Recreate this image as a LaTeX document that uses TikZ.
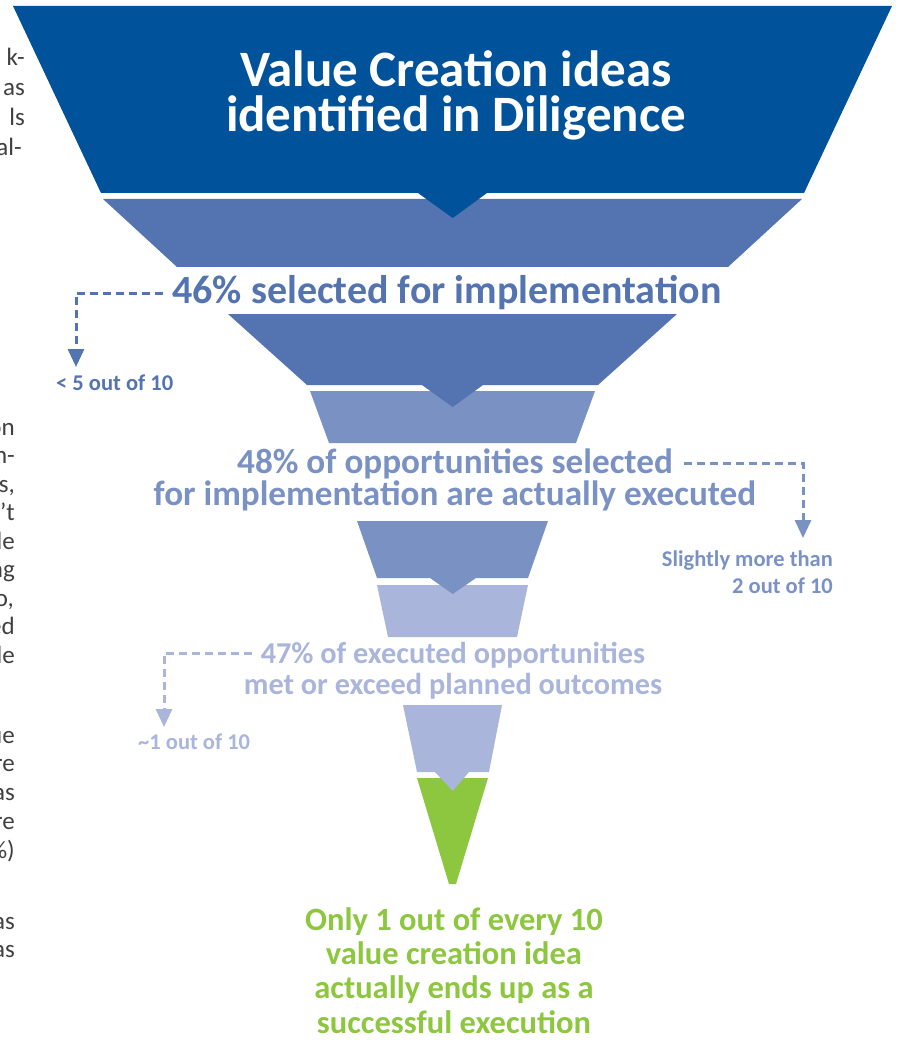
\documentclass[tikz,border=0pt]{standalone}
\usepackage{fontspec}
\setmainfont{Carlito}
\usetikzlibrary{arrows.meta,calc}

\definecolor{bandA}{RGB}{0,82,155}
\definecolor{bandB}{RGB}{83,115,177}
\definecolor{bandC}{RGB}{122,145,196}
\definecolor{bandD}{RGB}{169,181,218}
\definecolor{bandE}{RGB}{141,198,63}
\definecolor{bodygray}{RGB}{64,64,64}

\begin{document}
\begin{tikzpicture}[x=1pt,y=-1pt,
  txt/.style={inner sep=0pt,anchor=base},
  title/.style={txt,text=white,font=\fontsize{51pt}{54pt}\selectfont\bfseries},
  stageB/.style={txt,text=bandB,font=\fontsize{40pt}{44pt}\selectfont\bfseries},
  stageC/.style={txt,text=bandC,font=\fontsize{35.2pt}{38pt}\selectfont\bfseries},
  stageD/.style={txt,text=bandD,font=\fontsize{30.3pt}{32pt}\selectfont\bfseries},
  result/.style={txt,text=bandE,font=\fontsize{32.5pt}{35pt}\selectfont\bfseries},
  small/.style={inner sep=0pt,font=\fontsize{22.5pt}{25pt}\selectfont\bfseries},
  body/.style={inner sep=0pt,anchor=base east,text=bodygray,font=\fontsize{25pt}{28pt}\selectfont},
  dashB/.style={draw=bandB,line width=3pt,dash pattern=on 8pt off 5pt,-{Triangle[width=16pt,length=18pt]}},
  dashC/.style={dashB,draw=bandC},
  dashD/.style={dashB,draw=bandD}]
\useasboundingbox (0,0) rectangle (899,1040);

% funnel bands, top to bottom
\fill[bandB] (103,199) -- (802,199) -- (728,267) -- (177,267) -- cycle;
\fill[bandA] (13,6) -- (892,6) -- (804,193) -- (487,193) -- (452.7,218)
  -- (418,193) -- (101,193) -- cycle;
\fill[bandC] (310,391) -- (595,391) -- (576,443) -- (329,443) -- cycle;
\fill[bandB] (228,314) -- (677,314) -- (598,385) -- (483,385) -- (452.7,407)
  -- (422,385) -- (307,385) -- cycle;
\fill[bandD] (377,585) -- (528,585) -- (517,637) -- (388,637) -- cycle;
\fill[bandC] (357,521) -- (548,521) -- (528,578) -- (476,578) -- (452.7,594)
  -- (430,578) -- (377,578) -- cycle;
\fill[bandE] (417,778) -- (488,778) -- (456,884) -- (449,884) -- cycle;
\fill[bandD] (403,705) -- (502,705) -- (489,772) -- (469,772) -- (452.7,791)
  -- (435,772) -- (417,772) -- cycle;

% headline inside the top band
\node[title] (title1) at (456,87) {Value Creation ideas};
\node[title] (title2) at (456,132) {identified in Diligence};

% stage captions
\node[stageB] (s46) at (447,303) {46\% selected for implementation};
\node[stageC] (s48a) at (455,473) {48\% of opportunities selected};
\node[stageC] (s48b) at (455,505) {for implementation are actually executed};
\node[stageD] (s47a) at (453,663) {47\% of executed opportunities};
\node[stageD] (s47b) at (453,694) {met or exceed planned outcomes};

% side counts
\node[small,anchor=base west,text=bandB] (c5) at (56,390) {< 5 out of 10};
\node[small,anchor=base east,text=bandC] (c2a) at (833,566) {Slightly more than};
\node[small,anchor=base east,text=bandC] (c2b) at (833,593) {2 out of 10};
\node[small,anchor=base west,text=bandD] (c1) at (138,749) {\char"007E 1 out of 10};

% dashed leaders
\draw[dashB] ($(s46.base west)+(-9,-10)$) -| ($(c5.base west)+(20,-23)$);
\draw[dashC] ($(s48a.base east)+(11,-10)$) -| ($(c2a.base east)+(-30,-28)$);
\draw[dashD] ($(s47a.base west)+(-9,-10)$) -| ($(c1.base west)+(26,-22)$);

% closing statement
\node[result] (r1) at (454,930) {Only 1 out of every 10};
\node[result] (r2) at (454,964) {value creation idea};
\node[result] (r3) at (454,998) {actually ends up as a};
\node[result] (r4) at (454,1033) {successful execution};

% neighbouring text column, cut at the left edge
\node[body] (p1) at (25,66) {k-};
\node[body] (p2) at (25,96) {as};
\node[body] (p3) at (25,126) {ls};
\node[body] (p4) at (22,156) {al-};
\node[body] (q1) at (15,435) {on};
\node[body] (q2) at (15,463) {n-};
\node[body] (q3) at (15,492) {s,};
\node[body] (q4) at (15,520) {’t};
\node[body] (q5) at (15,549) {le};
\node[body] (q6) at (15,577) {ng};
\node[body] (q7) at (14,606) {o,};
\node[body] (q8) at (15,634) {ed};
\node[body] (q9) at (15,663) {le};
\node[body] (u1) at (15,743) {ue};
\node[body] (u2) at (15,771) {re};
\node[body] (u3) at (15,800) {as};
\node[body] (u4) at (15,829) {re};
\node[body] (u5) at (15,858) {\%)};
\node[body] (u6) at (15,929) {as};
\node[body] (u7) at (15,957) {as};
\end{tikzpicture}
\end{document}
